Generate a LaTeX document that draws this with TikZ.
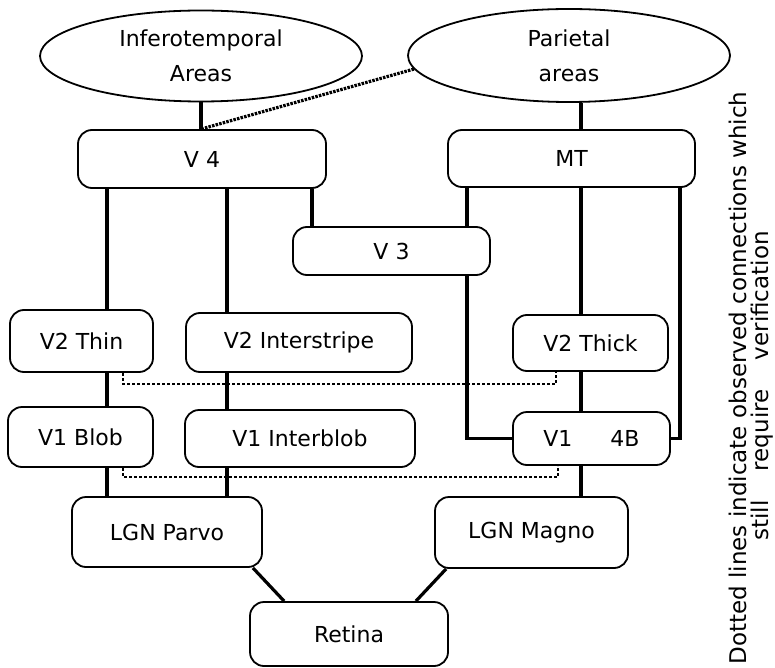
\documentclass[tikz,border=0pt]{standalone}
\usepackage{fontspec}
\setmainfont{DejaVu Sans}
\usetikzlibrary{shapes.geometric,calc}
\begin{document}
\begin{tikzpicture}[x=1pt,y=-1pt,
  box/.style={draw, line width=1.8pt, rounded corners=14pt, inner sep=0pt, font=\fontsize{22}{26}\selectfont},
  oval/.style={draw, ellipse, line width=1.8pt, inner sep=0pt, align=center, font=\fontsize{22}{35}\selectfont},
  link/.style={line width=3.2pt},
  dotlink/.style={line width=1.6pt, dash pattern=on 3pt off 2pt},
  heavydot/.style={line width=3.2pt, dash pattern=on 2.5pt off 1.2pt},
  note/.style={rotate=90, anchor=base, font=\fontsize{23}{26}\selectfont, inner sep=0pt}
]
\useasboundingbox (0,0) rectangle (775,668);
% nodes
\node[oval, minimum width=322pt, minimum height=91pt] (it) at (201,56) {Inferotemporal\\Areas};
\node[oval, minimum width=322pt, minimum height=93pt] (par) at (569,55.5) {Parietal\\areas};
\node[box, minimum width=248pt, minimum height=58pt] (v4) at (202,159) {V 4};
\node[box, minimum width=247pt, minimum height=57pt] (mt) at (571.5,158.5) {MT};
\node[box, minimum width=197pt, minimum height=48pt] (v3) at (391.5,251) {V 3};
\node[box, minimum width=143pt, minimum height=62pt] (v2thin) at (81.5,341) {V2 Thin};
\node[box, minimum width=226pt, minimum height=59pt] (v2int) at (299,342.5) {V2 Interstripe};
\node[box, minimum width=155pt, minimum height=56pt] (v2thick) at (590.5,343) {V2 Thick};
\node[box, minimum width=145pt, minimum height=60pt] (v1blob) at (80.5,437) {V1 Blob};
\node[box, minimum width=230pt, minimum height=57pt] (v1int) at (300,438.5) {V1 Interblob};
\node[box, minimum width=157pt, minimum height=53pt] (v14b) at (591.5,438.5) {V1\hspace{38pt}4B};
\node[box, minimum width=190pt, minimum height=70pt] (parvo) at (167,532) {LGN Parvo};
\node[box, minimum width=193pt, minimum height=71pt] (magno) at (531.5,532.5) {LGN Magno};
\node[box, minimum width=198pt, minimum height=64pt] (ret) at (349,634) {Retina};
\node[note] (n1) at (746,378) {Dotted lines indicate observed connections which};
\node[note] (n2) at (768,386) {still\hspace{22pt} require\hspace{22pt} verification};
% x positions of vertical connectors
\coordinate (xa) at (107,0);
\coordinate (xb) at (227,0);
\coordinate (xc) at (312,0);
\coordinate (xd) at (467,0);
\coordinate (xe) at (581,0);
\coordinate (xf) at (680,0);
\coordinate (xg) at (123,0);
\coordinate (xh) at (556,0);
\coordinate (xi) at (558,0);
% connectors
\draw[link] (it.south) -- (it.south |- v4.north);
\draw[heavydot] (par.185) -- (it.south |- v4.north);
\draw[link] (par.south -| xe) -- (mt.north -| xe);
\draw[link] (v4.south -| xa) -- (v2thin.north -| xa);
\draw[link] (v2thin.south -| xa) -- (v1blob.north -| xa);
\draw[link] (v1blob.south -| xa) -- (parvo.north -| xa);
\draw[link] (v4.south -| xb) -- (v2int.north -| xb);
\draw[link] (v2int.south -| xb) -- (v1int.north -| xb);
\draw[link] (v1int.south -| xb) -- (parvo.north -| xb);
\draw[link] (v4.south -| xc) -- (v3.north -| xc);
\draw[link] (mt.south -| xd) -- (v3.north -| xd);
\draw[link] (v3.south -| xd) |- (v14b.west);
\draw[link] (mt.south -| xe) -- (v2thick.north -| xe);
\draw[link] (v2thick.south -| xe) -- (v14b.north -| xe);
\draw[link] (v14b.south -| xe) -- (magno.north -| xe);
\draw[link] (mt.south -| xf) |- (v14b.east);
\draw[link] ($(parvo.south east)+(-10,0)$) -- ($(ret.north west)+(35,0)$);
\draw[link] ($(magno.south west)+(12,0)$) -- ($(ret.north east)+(-33,0)$);
% dotted (unverified) connections
\draw[dotlink] (v2thin.south -| xg) -- ++(0,11) -| (v2thick.south -| xh);
\draw[dotlink] (v1blob.south -| xg) -- ++(0,9) -| (v14b.south -| xi);
\end{tikzpicture}
\end{document}
